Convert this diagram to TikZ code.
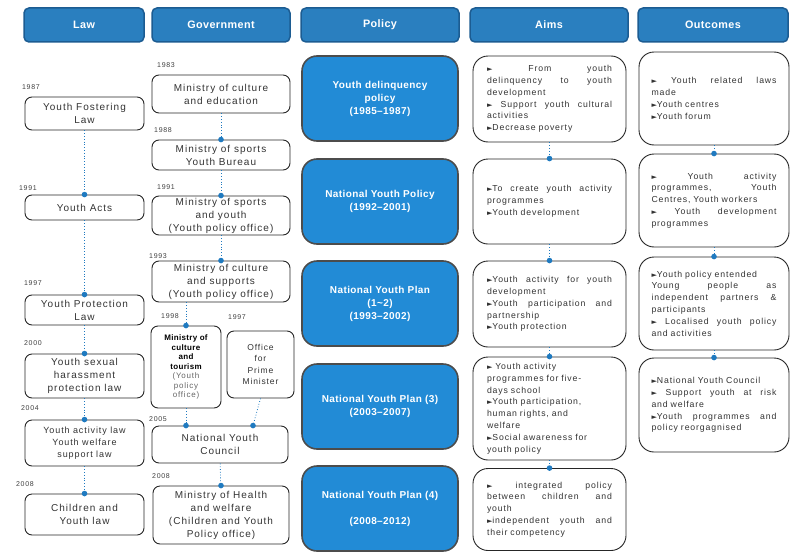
\documentclass[tikz,border=0pt]{standalone}
\usepackage{fontspec}
\setmainfont{Liberation Sans}[LetterSpace=10, BoldFeatures={LetterSpace=4}]
\newfontfamily\symfont{DejaVu Sans}
\usepackage{xcolor}
\usepackage{tikz}
\usetikzlibrary{calc}
\usetikzlibrary{positioning}
\definecolor{headblue}{RGB}{42,127,191}
\definecolor{headedge}{RGB}{28,92,146}
\definecolor{polblue}{RGB}{34,139,214}
\definecolor{linkblue}{RGB}{31,122,192}
\newcommand{\bul}{{\symfont\fontsize{7}{7}\selectfont ►}}
\newcommand{\jl}[1]{\makebox[125pt][s]{\spaceskip=0.3em plus 1fil\relax #1}}
\tikzset{
  head/.style = {rectangle, rounded corners=5pt, fill=headblue, draw=headedge, line width=1.5pt,
                 text=white, font=\fontsize{10.8}{12}\selectfont\bfseries, minimum height=34},
  lawbox/.style = {rectangle, rounded corners=7pt, draw=black!85, line width=0.9pt, fill=white,
                   align=center, text=black!80, inner ysep=0pt, font=\fontsize{10}{13}\selectfont},
  polbox/.style = {rectangle, rounded corners=15pt, fill=polblue, draw=black!70, line width=1.6pt,
                   text=white, align=center, font=\fontsize{10}{13}\selectfont\bfseries,
                   minimum width=156, minimum height=85},
  aimbox/.style = {rectangle, rounded corners=15pt, draw=black!85, line width=0.9pt, fill=white,
                   text width=125, align=left, text=black!80, font=\fontsize{8.7}{11.8}\selectfont},
  yr/.style = {font=\fontsize{7}{7}\selectfont, text=black!75, inner sep=0pt},
  link/.style = {draw=linkblue, dotted, line width=0.8pt},
  joint/.style = {fill=linkblue}
}

\begin{document}
\begin{tikzpicture}[x=1pt, y=-1pt]
\useasboundingbox (0,0) rectangle (791,551);

% column heads
\node [head, minimum width=120] (hlaw) at (84,25) {Law};
\node [head, minimum width=138] (hgov) at (221,25) {Government};
\node [head, minimum width=158] (hpol) at (380,25) {Policy};
\node [head, minimum width=158] (haim) at (549,25) {Aims};
\node [head, minimum width=150] (hout) at (713,25) {Outcomes};

% law
\node [lawbox, minimum width=119, minimum height=33] (foster) at (84.5,113.5) {Youth Fostering\\Law};
\node [lawbox, minimum width=119, minimum height=25] (acts) at (84.5,207.5) {Youth Acts};
\node [lawbox, minimum width=119, minimum height=30] (protect) at (84.5,310) {Youth Protection\\Law};
\node [lawbox, minimum width=119, minimum height=44] (harass) at (84.5,376) {Youth sexual\\harassment\\protection law};
\node [lawbox, minimum width=119, minimum height=46, font=\fontsize{9}{12}\selectfont] (lawact) at (84.5,443) {Youth activity law\\Youth welfare\\support law};
\node [lawbox, minimum width=119, minimum height=41] (children) at (84.5,514.5) {Children and\\Youth law};

\node [yr] (y87) at (31,87) {1987};
\node [yr] (y91) at (28,188) {1991};
\node [yr] (y97) at (33,283) {1997};
\node [yr] (y00) at (33,343) {2000};
\node [yr] (y04) at (30,408) {2004};
\node [yr] (y08) at (25,484) {2008};

% government
\node [lawbox, minimum width=138, minimum height=38] (g83) at (221,94) {Ministry of culture\\and education};
\node [lawbox, minimum width=138, minimum height=30] (g88) at (221,155) {Ministry of sports\\Youth Bureau};
\node [lawbox, minimum width=138, minimum height=39] (g91) at (221,215.5) {Ministry of sports\\and youth\\(Youth policy office)};
\node [lawbox, minimum width=138, minimum height=41] (g93) at (221,281.5) {Ministry of culture\\and supports\\(Youth policy office)};
\node [lawbox, minimum width=70, minimum height=82, font=\fontsize{8}{9.5}\selectfont\bfseries, text=black] (tour) at (186,367)
  {Ministry of\\culture\\and\\tourism\\{\mdseries\color{black!60}(Youth}\\{\mdseries\color{black!60}policy}\\{\mdseries\color{black!60}office)}};
\node [lawbox, minimum width=67, minimum height=67, font=\fontsize{8.5}{11.5}\selectfont] (office) at (260.5,364.5) {Office\\for\\Prime\\Minister};
\node [lawbox, minimum width=136, minimum height=37] (council) at (220,444.5) {National Youth\\Council};
\node [lawbox, minimum width=136, minimum height=58] (g08) at (221,515) {Ministry of Health\\and welfare\\(Children and Youth\\Policy office)};

\node [yr] (gy83) at (166,65) {1983};
\node [yr] (gy88) at (163,130) {1988};
\node [yr] (gy91) at (166,187) {1991};
\node [yr] (gy93) at (158,256) {1993};
\node [yr] (gy98) at (170,316) {1998};
\node [yr] (gy97) at (237,317) {1997};
\node [yr] (gy05) at (158,419) {2005};
\node [yr] (gy08) at (161,476) {2008};

% policy
\node [polbox] (p1) at (380,98.5) {Youth delinquency\\policy\\(1985--1987)};
\node [polbox] (p2) at (380,201.5) {National Youth Policy\\(1992--2001)};
\node [polbox] (p3) at (380,303.5) {National Youth Plan\\(1\textasciitilde 2)\\(1993--2002)};
\node [polbox] (p4) at (380,406.5) {National Youth Plan (3)\\(2003--2007)};
\node [polbox] (p5) at (380,508.5) {National Youth Plan (4)\\[13pt](2008--2012)};

% aims
\node [aimbox, minimum width=153, minimum height=86] (a1) at (549.5,99) {%
  \jl{\bul{} From youth}\\\jl{delinquency to youth}\\development\\
  \jl{\bul{} Support youth cultural}\\activities\\\bul Decrease poverty};
\node [aimbox, minimum width=153, minimum height=85] (a2) at (549.5,201.5) {%
  \jl{\bul To create youth activity}\\programmes\\\bul Youth development};
\node [aimbox, minimum width=153, minimum height=86] (a3) at (549.5,304) {%
  \jl{\bul Youth activity for youth}\\development\\\jl{\bul Youth participation and}\\partnership\\\bul Youth protection};
\node [aimbox, minimum width=153, minimum height=103] (a4) at (549.5,408.5) {%
  \bul{} Youth activity\\programmes for five-\\days school\\\bul Youth participation,\\human rights, and\\welfare\\
  \bul Social awareness for\\youth policy};
\node [aimbox, minimum width=153, minimum height=82] (a5) at (549.5,509.5) {%
  \jl{\bul{} integrated policy}\\\jl{between children and}\\youth\\\jl{\bul independent youth and}\\their competency};

% outcomes
\node [aimbox, minimum width=150, minimum height=93] (o1) at (714,98.5) {%
  \jl{\bul{} Youth related laws}\\made\\\bul Youth centres\\\bul Youth forum};
\node [aimbox, minimum width=150, minimum height=93] (o2) at (714,200.5) {%
  \jl{\bul{} Youth activity}\\\jl{programmes, Youth}\\Centres, Youth workers\\\jl{\bul{} Youth development}\\programmes};
\node [aimbox, minimum width=150, minimum height=93] (o3) at (714,303.5) {%
  \bul Youth policy entended\\\jl{Young people as}\\\jl{independent partners \&}\\participants\\
  \jl{\bul{} Localised youth policy}\\and activities};
\node [aimbox, minimum width=150, minimum height=94] (o4) at (714,405) {%
  \bul National Youth Council\\\jl{\bul{} Support youth at risk}\\and welfare\\\jl{\bul Youth programmes and}\\policy reorgagnised};

% dotted links
\draw [link] (foster) -- (acts);
\draw [link] (acts) -- (protect);
\draw [link] (protect) -- (harass);
\draw [link] (harass) -- (lawact);
\draw [link] (lawact) -- (children);
\draw [link] (g83) -- (g88);
\draw [link] (g88) -- (g91);
\draw [link] (g91) -- (g93);
\draw [link] (tour.north |- g93.south) -- (tour.north);
\draw [link] (tour.south) -- (tour.south |- council.north);
\draw [link] (office.south) -- ([xshift=33]council.north);
\draw [link] (council) -- (g08);
\draw [link] (a1) -- (a2);
\draw [link] (a2) -- (a3);
\draw [link] (a3) -- (a4);
\draw [link] (a4) -- (a5);
\draw [link] (o1) -- (o2);
\draw [link] (o2) -- (o3);
\draw [link] (o3) -- (o4);

\foreach \n in {acts,protect,harass,lawact,children,g88,g91,g93,tour,g08,a2,a3,a4,a5,o2,o3,o4}
  \fill [joint] (\n.north) circle (2.8pt);
\fill [joint] (tour.south |- council.north) circle (2.8pt);
\fill [joint] ([xshift=33]council.north) circle (2.8pt);
\end{tikzpicture}
\end{document}
